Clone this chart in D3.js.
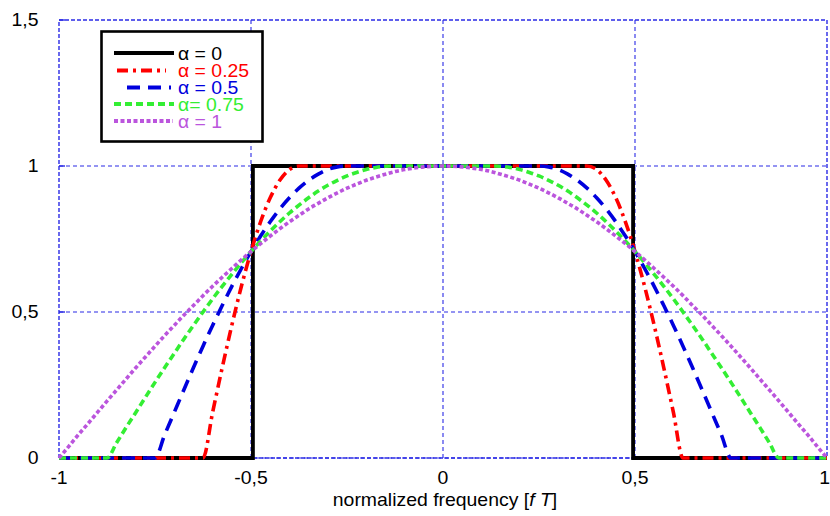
<!DOCTYPE html>
<html>
<head>
<meta charset="utf-8">
<script src="https://cdn.jsdelivr.net/npm/d3@7/dist/d3.min.js"></script>
<style>
  html, body { margin: 0; padding: 0; background: #fff; }
  svg { display: block; font-family: "Liberation Sans", Arial, sans-serif; }
</style>
</head>
<body>
<svg id="chart" width="830" height="516"></svg>
<script>
// Root-raised-cosine spectra, sampled every 0.025 in normalized frequency f·T
const freq = [
  -1, -0.975, -0.95, -0.925, -0.9, -0.875, -0.85, -0.825, -0.8, -0.775,
  -0.75, -0.725, -0.7, -0.675, -0.65, -0.625, -0.6, -0.575, -0.55, -0.525,
  -0.5, -0.475, -0.45, -0.425, -0.4, -0.375, -0.35, -0.325, -0.3, -0.275,
  -0.25, -0.225, -0.2, -0.175, -0.15, -0.125, -0.1, -0.075, -0.05, -0.025,
  0,
  0.025, 0.05, 0.075, 0.1, 0.125, 0.15, 0.175, 0.2, 0.225, 0.25,
  0.275, 0.3, 0.325, 0.35, 0.375, 0.4, 0.425, 0.45, 0.475, 0.5,
  0.525, 0.55, 0.575, 0.6, 0.625, 0.65, 0.675, 0.7, 0.725, 0.75,
  0.775, 0.8, 0.825, 0.85, 0.875, 0.9, 0.925, 0.95, 0.975, 1
];

// alpha = 0: ideal brick-wall response
const stepFreq = [-1, -0.495, -0.495, 0.495, 0.495, 1];
const stepGain = [0, 0, 1, 1, 0, 0];

const gain025 = [
  0, 0, 0, 0, 0, 0, 0, 0, 0, 0, 0, 0, 0, 0, 0,
  0, 0.156, 0.309, 0.454, 0.588, 0.707, 0.809, 0.891, 0.951, 0.988,
  1, 1, 1, 1, 1, 1, 1, 1, 1, 1, 1, 1, 1, 1, 1,
  1,
  1, 1, 1, 1, 1, 1, 1, 1, 1, 1, 1, 1, 1, 1, 1,
  0.988, 0.951, 0.891, 0.809, 0.707, 0.588, 0.454, 0.309, 0.156, 0,
  0, 0, 0, 0, 0, 0, 0, 0, 0, 0, 0, 0, 0, 0, 0
];

const gain05 = [
  0, 0, 0, 0, 0, 0, 0, 0, 0, 0,
  0, 0.079, 0.156, 0.233, 0.309, 0.383, 0.454, 0.522, 0.588, 0.649,
  0.707, 0.760, 0.809, 0.853, 0.891, 0.924, 0.951, 0.972, 0.988, 0.997,
  1, 1, 1, 1, 1, 1, 1, 1, 1, 1,
  1,
  1, 1, 1, 1, 1, 1, 1, 1, 1, 1,
  0.997, 0.988, 0.972, 0.951, 0.924, 0.891, 0.853, 0.809, 0.760, 0.707,
  0.649, 0.588, 0.522, 0.454, 0.383, 0.309, 0.233, 0.156, 0.079, 0,
  0, 0, 0, 0, 0, 0, 0, 0, 0, 0
];

const gain075 = [
  0, 0, 0, 0, 0,
  0, 0.052, 0.105, 0.156, 0.208, 0.259, 0.309, 0.358, 0.407, 0.454,
  0.5, 0.545, 0.588, 0.629, 0.669, 0.707, 0.743, 0.777, 0.809, 0.839,
  0.866, 0.891, 0.914, 0.934, 0.951, 0.966, 0.978, 0.988, 0.995, 0.999,
  1, 1, 1, 1, 1,
  1,
  1, 1, 1, 1, 1,
  0.999, 0.995, 0.988, 0.978, 0.966, 0.951, 0.934, 0.914, 0.891, 0.866,
  0.839, 0.809, 0.777, 0.743, 0.707, 0.669, 0.629, 0.588, 0.545, 0.5,
  0.454, 0.407, 0.358, 0.309, 0.259, 0.208, 0.156, 0.105, 0.052, 0,
  0, 0, 0, 0, 0
];

const gain1 = [
  0, 0.039, 0.079, 0.117, 0.156, 0.195, 0.233, 0.271, 0.309, 0.346,
  0.383, 0.419, 0.454, 0.489, 0.522, 0.556, 0.588, 0.619, 0.649, 0.679,
  0.707, 0.734, 0.760, 0.785, 0.809, 0.831, 0.853, 0.872, 0.891, 0.908,
  0.924, 0.938, 0.951, 0.962, 0.972, 0.981, 0.988, 0.993, 0.997, 0.999,
  1,
  0.999, 0.997, 0.993, 0.988, 0.981, 0.972, 0.962, 0.951, 0.938, 0.924,
  0.908, 0.891, 0.872, 0.853, 0.831, 0.809, 0.785, 0.760, 0.734, 0.707,
  0.679, 0.649, 0.619, 0.588, 0.556, 0.522, 0.489, 0.454, 0.419, 0.383,
  0.346, 0.309, 0.271, 0.233, 0.195, 0.156, 0.117, 0.079, 0.039, 0
];

const xTickValues = [-1, -0.5, 0, 0.5, 1];
const xTickLabels = ["-1", "-0,5", "0", "0,5", "1"];
const yTickValues = [0, 0.5, 1, 1.5];
const yTickLabels = ["0", "0,5", "1", "1,5"];
const legendLabels = ["\u03b1 = 0", "\u03b1 = 0.25", "\u03b1 = 0.5", "\u03b1= 0.75", "\u03b1 = 1"];

const svg = d3.select("#chart");
const plotLeft = 59, plotRight = 827, plotTop = 20, plotBottom = 458;
const x = d3.scaleLinear().domain([-1, 1]).range([plotLeft, plotRight]);
const y = d3.scaleLinear().domain([0, 1.5]).range([plotBottom, plotTop]);

const gridColor = "#2a2ae6";
const textStretch = 1.11;   // labels are set in a slightly wide face
const place = (px, py) => `translate(${px},${py}) scale(${textStretch},1)`;

// frame
svg.append("rect")
  .attr("x", plotLeft).attr("y", plotTop)
  .attr("width", plotRight - plotLeft).attr("height", plotBottom - plotTop)
  .attr("fill", "none").attr("stroke", gridColor)
  .attr("stroke-width", 1.4).attr("stroke-dasharray", "4,2");

// grid
const grid = svg.append("g").attr("stroke", gridColor).attr("stroke-width", 1.1)
  .attr("stroke-dasharray", "4,3");
grid.selectAll("line.v").data(xTickValues.slice(1, -1)).join("line")
  .attr("x1", d => x(d)).attr("x2", d => x(d))
  .attr("y1", plotTop).attr("y2", plotBottom);
grid.selectAll("line.h").data(yTickValues.slice(0, -1)).join("line")
  .attr("x1", plotLeft).attr("x2", plotRight)
  .attr("y1", d => y(d)).attr("y2", d => y(d));

// inward tick marks on the value axis
svg.append("g").selectAll("line").data(yTickValues).join("line")
  .attr("x1", plotLeft).attr("x2", plotLeft + 6)
  .attr("y1", d => y(d)).attr("y2", d => y(d))
  .attr("stroke", gridColor).attr("stroke-width", 1.4);

// tick labels
svg.append("g").selectAll("text").data(yTickValues).join("text")
  .attr("transform", d => place(38.5, y(d)))
  .attr("text-anchor", "end").attr("dominant-baseline", "central")
  .attr("font-size", 17.5).attr("fill", "#000")
  .text((d, i) => yTickLabels[i]);

svg.append("g").selectAll("text").data(xTickValues).join("text")
  .attr("transform", (d, i) => i === xTickValues.length - 1 ? place(830, 484) : place(x(d), 484))
  .attr("text-anchor", (d, i) => i === xTickValues.length - 1 ? "end" : "middle")
  .attr("font-size", 17.5).attr("fill", "#000")
  .text((d, i) => xTickLabels[i]);

// axis title
const title = svg.append("text")
  .attr("transform", place(445, 506))
  .attr("text-anchor", "middle").attr("font-size", 17.5).attr("fill", "#000");
title.append("tspan").text("normalized frequency [");
title.append("tspan").attr("font-style", "italic").text("f T");
title.append("tspan").text("]");

// curves
const series = [
  { fx: stepFreq, gy: stepGain, color: "#000000", dash: null, width: 3.8, curve: d3.curveLinear },
  { fx: freq, gy: gain025, color: "#ff0000", dash: "11,5,3,5", width: 3.6, curve: d3.curveMonotoneX },
  { fx: freq, gy: gain05, color: "#0000dd", dash: "13,8", width: 3.6, curve: d3.curveMonotoneX },
  { fx: freq, gy: gain075, color: "#33ee33", dash: "7,4", width: 3.6, curve: d3.curveMonotoneX },
  { fx: freq, gy: gain1, color: "#bb55dd", dash: "4,2.5", width: 3.6, curve: d3.curveMonotoneX }
];

series.forEach(s => {
  const line = d3.line()
    .x((d, i) => x(s.fx[i]))
    .y(d => y(d))
    .curve(s.curve);
  svg.append("path")
    .attr("d", line(s.gy))
    .attr("fill", "none")
    .attr("stroke", s.color)
    .attr("stroke-width", s.width)
    .attr("stroke-dasharray", s.dash);
});

// legend
const legend = svg.append("g");
legend.append("rect")
  .attr("x", 101.5).attr("y", 31.5).attr("width", 161).attr("height", 110)
  .attr("fill", "#fff").attr("stroke", "#000").attr("stroke-width", 2.6);

const rowY = [53, 70.5, 87.5, 104, 121];
const sampleSpans = [[114, 174], [117, 166], [127, 171], [114, 174], [114, 173]];
series.forEach((s, i) => {
  legend.append("line")
    .attr("x1", sampleSpans[i][0]).attr("x2", sampleSpans[i][1])
    .attr("y1", rowY[i]).attr("y2", rowY[i])
    .attr("stroke", s.color).attr("stroke-width", 3.8)
    .attr("stroke-dasharray", s.dash);
  legend.append("text")
    .attr("transform", place(178, rowY[i] + 0.5))
    .attr("dominant-baseline", "central")
    .attr("font-size", 17.5).attr("fill", s.color)
    .text(legendLabels[i]);
});
</script>
</body>
</html>
